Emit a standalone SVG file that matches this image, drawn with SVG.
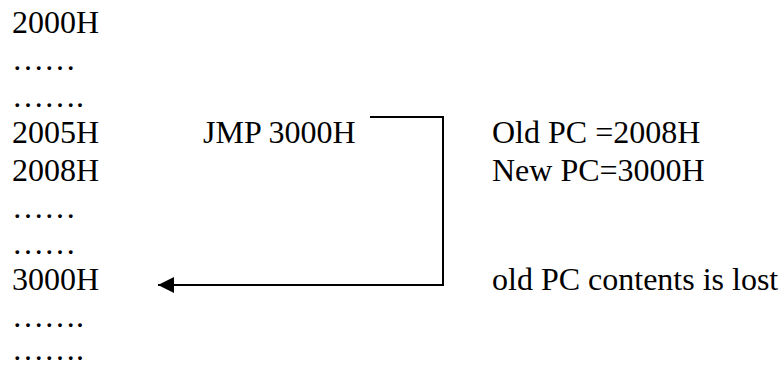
<svg xmlns="http://www.w3.org/2000/svg" width="780" height="366" viewBox="0 0 780 366">
<style>
text{font-family:"Liberation Serif","Times New Roman",serif;font-size:32px;fill:#000}
.conn{fill:none;stroke:#000;stroke-width:2}
</style>
<defs>
<marker id="ah" markerUnits="userSpaceOnUse" markerWidth="18" markerHeight="18" refX="16" refY="8" orient="auto">
<path d="M0,0 L16,8 L0,16 Z" fill="#000"/>
</marker>
</defs>
<rect width="780" height="366" fill="#fff"/>
<g id="addresses">
<text x="12" y="33">2000H</text>
<text x="12" y="70">……</text>
<text x="12" y="107">…….</text>
<text x="12" y="143">2005H</text>
<text x="12" y="181">2008H</text>
<text x="12" y="218">……</text>
<text x="12" y="254">……</text>
<text x="12" y="290">3000H</text>
<text x="12" y="327">…….</text>
<text x="12" y="360">…….</text>
</g>
<g id="instruction">
<text x="203" y="143">JMP 3000H</text>
</g>
<g id="notes">
<text x="492" y="143">Old PC =2008H</text>
<text x="492" y="181">New PC=3000H</text>
<text x="492" y="290">old PC contents is lost</text>
</g>
<g id="connectors">
<path class="conn" d="M370,117 H443 V285 H158" marker-end="url(#ah)"/>
</g>
</svg>
